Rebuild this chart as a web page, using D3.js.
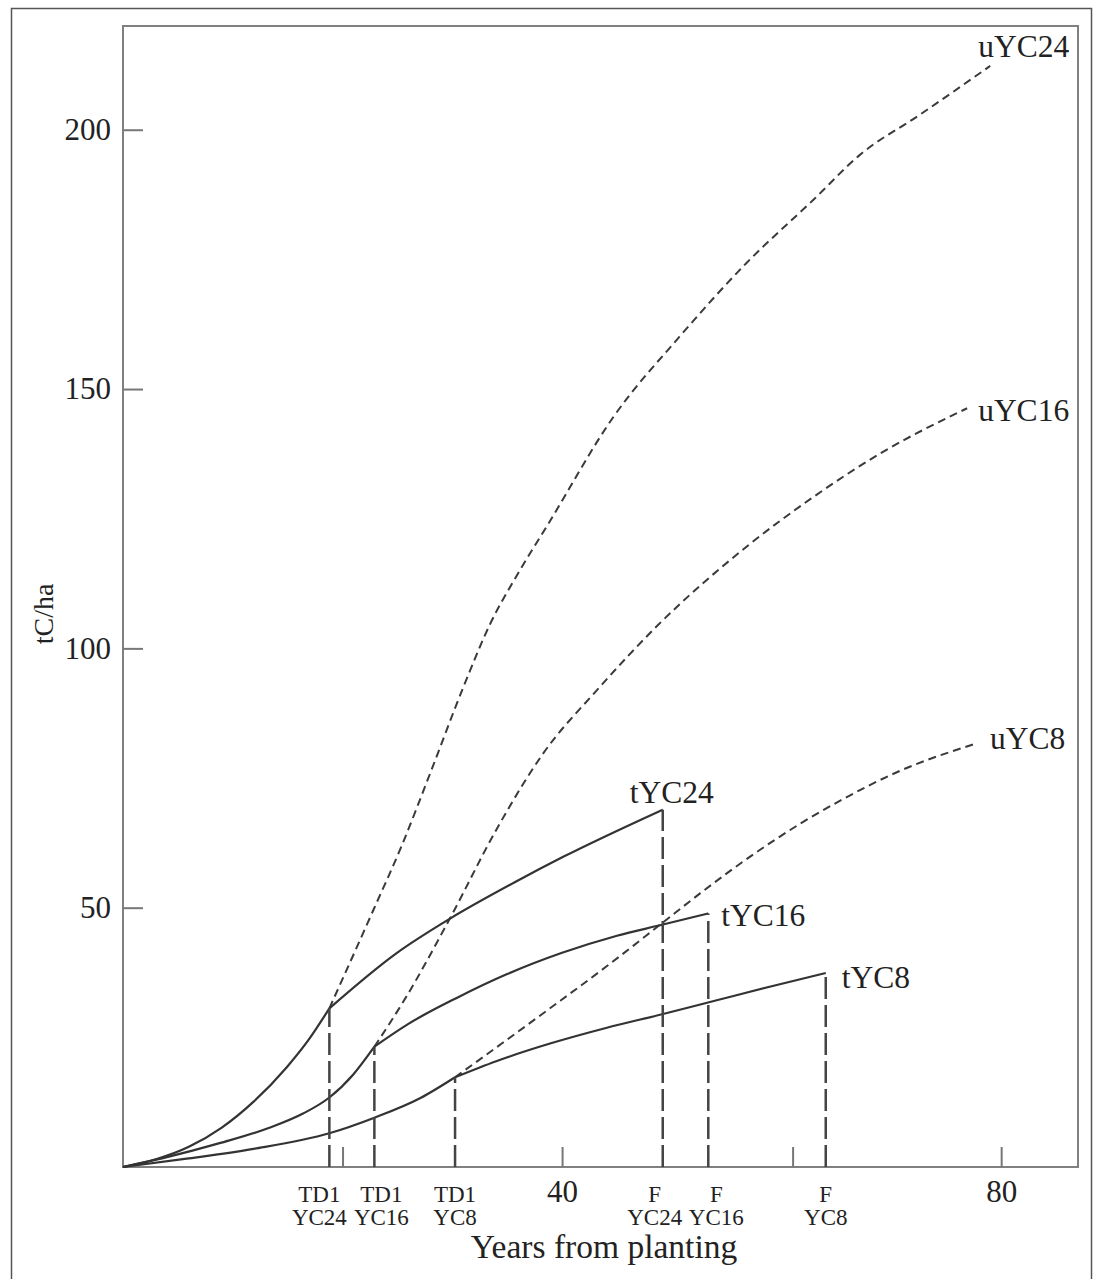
<html>
<head>
<title>Carbon in thinned and unthinned stands</title>
<style>
  body { margin: 0; background: #fff; }
  svg text { font-family: "Liberation Serif", "DejaVu Serif", serif; fill: #222; }
</style>
</head>
<body>
<svg></svg>
<script src="https://cdn.jsdelivr.net/npm/d3@7"></script>
<script>
// canvas size, same as the page
var width = 1099;
var height = 1279;

// values: [years from planting, tC/ha]
// growth before the first thinning
var preYC24 = [[0, 0], [3, 1.5], [6, 3.9], [9, 7.6], [11.9, 12.6], [14.9, 19.2], [17, 24.8], [18.8, 30.6]];
var preYC16 = [[0, 0], [4, 1.9], [8.8, 4.6], [13.4, 7.6], [16.4, 10.3], [18.8, 13.4], [21.0, 17.9], [22.9, 23.2]];
var preYC8 = [[0, 0], [5.8, 1.6], [11.9, 3.5], [18.8, 6.5], [22.9, 9.5], [27.1, 13.3], [30.25, 17.3]];

// unthinned (dashed)
var uYC24 = [[18.8, 30.6], [22.8, 49.5], [25.4, 62.0], [28.0, 76.0], [31.0, 92.5], [33.4, 104.5], [36.0, 114.5],
             [38.6, 123.5], [44.7, 144.7], [50.7, 160.1], [56.8, 174.3], [62.9, 186.5], [67.1, 195.1], [72.6, 202.9], [79.0, 212.3]];
var uYC16 = [[22.9, 23.2], [25.8, 32.8], [29.8, 48.0], [34.0, 65.0], [38.3, 79.8], [43.2, 92.0], [48.6, 104.2],
             [56.8, 119.6], [62.9, 129.2], [69.0, 137.6], [76.9, 146.3]];
var uYC8 = [[30.25, 17.3], [34.5, 23.8], [38.9, 30.6], [44.0, 38.6], [49.1, 47.0], [52.6, 52.8], [57.1, 59.8],
            [61.7, 66.2], [65.3, 70.6], [70.8, 76.4], [77.8, 81.7]];

// thinned (solid) up to felling
var tYC24 = [[18.8, 30.6], [24.9, 41.2], [29.8, 47.9], [35.6, 54.8], [40.1, 59.8], [49.17, 68.9]];
var tYC16 = [[22.9, 23.2], [26.0, 27.6], [30.4, 32.6], [35.0, 37.2], [40.0, 41.3], [45.0, 44.6], [49.1, 46.7], [53.32, 48.9]];
var tYC8 = [[30.25, 17.3], [34.0, 20.4], [38.9, 23.8], [44.0, 26.8], [49.2, 29.5], [54.0, 32.1], [59.0, 34.8], [64.02, 37.4]];

// first thinning (TD1) and felling (F) dates
var eventTop = ["TD1", "TD1", "TD1", "F", "F", "F"];
var eventClass = ["YC24", "YC16", "YC8", "YC24", "YC16", "YC8"];
var eventYear = [18.8, 22.9, 30.25, 49.17, 53.32, 64.02];
var eventValue = [30.6, 23.2, 17.3, 68.9, 48.9, 37.4];

// axis ticks
var yTicks = [50, 100, 150, 200];
var xTicks = [20, 40, 61, 80];
var xTickLabels = ["", "40", "", "80"];

// series to draw
var dashedSeries = [{name: "uYC24", pts: uYC24}, {name: "uYC16", pts: uYC16}, {name: "uYC8", pts: uYC8}];
var solidSeries = [{name: "tYC24", pts: tYC24}, {name: "tYC16", pts: tYC16}, {name: "tYC8", pts: tYC8},
                   {name: "", pts: preYC24}, {name: "", pts: preYC16}, {name: "", pts: preYC8}];

// label offsets from the last point of a curve (pixels)
var labelOffset = {
  uYC24: [-12, -9], uYC16: [11, 13], uYC8: [13, 6],
  tYC24: [-33, -7], tYC16: [13, 13], tYC8: [16, 15]
};
// horizontal nudge of the event labels under the axis
var eventNudge = [-10, 7, 0, -8, 8, 0];

var svg = d3.select("svg")
  .attr("width", width)
  .attr("height", height);

var x = d3.scaleLinear().domain([0, 87]).range([123, 1078]);
var y = d3.scaleLinear().domain([0, 220]).range([1167, 26]);

// outer frame
svg.append("rect")
  .attr("x", 11.5).attr("y", 8.5)
  .attr("width", 1080).attr("height", 1300)
  .attr("fill", "none").attr("stroke", "#555").attr("stroke-width", 1.5);

// plot box
svg.append("rect")
  .attr("x", x.range()[0]).attr("y", y.range()[1])
  .attr("width", x.range()[1] - x.range()[0])
  .attr("height", y.range()[0] - y.range()[1])
  .attr("fill", "none").attr("stroke", "#808080").attr("stroke-width", 2);

// y axis, ticks pointing in
var yAxis = svg.append("g")
  .attr("transform", "translate(" + x.range()[0] + ",0)")
  .call(d3.axisLeft(y).tickValues(yTicks).tickSize(-20).tickPadding(12));
yAxis.select(".domain").remove();

// x axis
var xAxis = svg.append("g")
  .attr("transform", "translate(0," + y.range()[0] + ")")
  .call(d3.axisBottom(x).tickValues(xTicks).tickSize(-20).tickPadding(13)
    .tickFormat(function(d, i) { return xTickLabels[i]; }));
xAxis.select(".domain").remove();

svg.selectAll(".tick line").attr("stroke", "#777").attr("stroke-width", 2);
svg.selectAll(".tick text")
  .attr("font-family", "Liberation Serif, serif")
  .style("font-size", "31px")
  .attr("fill", "#222");

var line = d3.line()
  .x(function(d) { return x(d[0]); })
  .y(function(d) { return y(d[1]); })
  .curve(d3.curveMonotoneX);

// unthinned curves
svg.append("g").selectAll("path")
  .data(dashedSeries)
  .enter()
  .append("path")
  .attr("d", function(d) { return line(d.pts); })
  .attr("fill", "none")
  .attr("stroke", "#3a3a3a")
  .attr("stroke-width", 2)
  .attr("stroke-dasharray", "8,5");

// thinned and pre-thinning curves
svg.append("g").selectAll("path")
  .data(solidSeries)
  .enter()
  .append("path")
  .attr("d", function(d) { return line(d.pts); })
  .attr("fill", "none")
  .attr("stroke", "#333")
  .attr("stroke-width", 2.2);

// thinning / felling verticals
svg.append("g").selectAll("line")
  .data(eventYear)
  .enter()
  .append("line")
  .attr("x1", function(d) { return x(d); })
  .attr("x2", function(d) { return x(d); })
  .attr("y1", y(0))
  .attr("y2", function(d, i) { return y(eventValue[i]); })
  .attr("stroke", "#444")
  .attr("stroke-width", 2.5)
  .attr("stroke-dasharray", "22,6");

// event labels under the axis
var evLabels = svg.append("g");
eventYear.forEach(function(d, i) {
  var t = evLabels.append("text")
    .attr("text-anchor", "middle")
    .style("font-size", "23px");
  t.append("tspan").attr("x", x(d) + eventNudge[i]).attr("y", 1202).text(eventTop[i]);
  t.append("tspan").attr("x", x(d) + eventNudge[i]).attr("y", 1225).text(eventClass[i]);
});

// curve names
dashedSeries.concat(solidSeries.slice(0, 3)).forEach(function(s) {
  var last = s.pts[s.pts.length - 1];
  svg.append("text")
    .attr("x", x(last[0]) + labelOffset[s.name][0])
    .attr("y", y(last[1]) + labelOffset[s.name][1])
    .style("font-size", "31.5px")
    .text(s.name);
});

// axis titles
svg.append("text")
  .attr("text-anchor", "middle")
  .attr("x", 604)
  .attr("y", 1258)
  .style("font-size", "33.5px")
  .text("Years from planting");

svg.append("text")
  .attr("text-anchor", "middle")
  .attr("transform", "translate(53,614) rotate(-90)")
  .style("font-size", "28px")
  .text("tC/ha");
</script>
</body>
</html>
